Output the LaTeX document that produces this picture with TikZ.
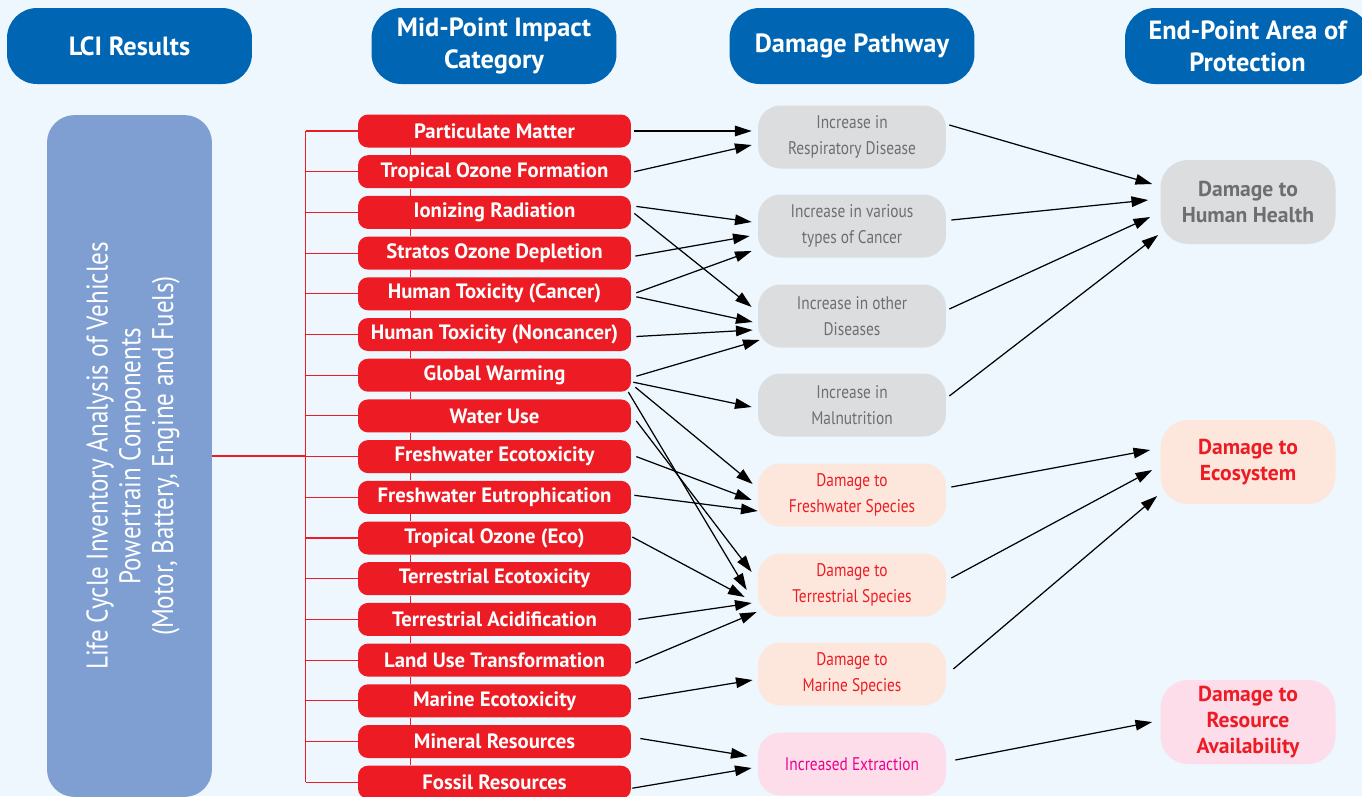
\documentclass[tikz,border=0pt]{standalone}
\usepackage{fontspec}
\setmainfont{PT Sans}
\newfontfamily\narrowfont[FakeStretch=0.84]{PT Sans}
\usetikzlibrary{arrows.meta}

\definecolor{bgblue}{HTML}{EDF7FD}
\definecolor{hdrblue}{HTML}{0066B3}
\definecolor{lciblue}{HTML}{7F9FD3}
\definecolor{midred}{HTML}{ED1C24}
\definecolor{palegray}{HTML}{DCDDDE}
\definecolor{darkgray}{HTML}{6D6E71}
\definecolor{peach}{HTML}{FDE7DD}
\definecolor{pinkbox}{HTML}{FCDDE9}
\definecolor{magenta}{HTML}{EC008C}

\begin{document}
\begin{tikzpicture}[x=0.02cm, y=-0.02cm,
  header/.style={fill=hdrblue, text=white, rounded corners=0.6cm, inner sep=0pt,
    minimum width=4.9cm, minimum height=1.52cm, align=center,
    font=\bfseries\fontsize{15}{18}\selectfont},
  midbox/.style={fill=midred, text=white, rounded corners=0.2cm, inner sep=0pt,
    minimum width=5.46cm, minimum height=0.66cm,
    font=\bfseries\fontsize{11.8}{13}\selectfont},
  pathbox/.style={rounded corners=0.45cm, inner sep=0pt, align=center,
    minimum width=3.76cm, minimum height=1.26cm,
    font=\narrowfont\fontsize{10.4}{14.7}\selectfont},
  endbox/.style={rounded corners=0.55cm, inner sep=0pt, align=center,
    minimum width=3.5cm, minimum height=1.68cm,
    font=\bfseries\fontsize{12.3}{14.7}\selectfont},
  redline/.style={midred, line width=0.6pt},
  arr/.style={-{Triangle[length=9.5pt,width=6pt]}, line width=0.7pt}]

\fill[bgblue] (0,0) rectangle (1362,796);
\useasboundingbox (0,0) rectangle (1362,796);
\clip (0,0) rectangle (1362,796);

% Column headers
\node[header] (h1) at (129.5,46) {LCI Results};
\node[header] (h2) at (494,46) {Mid-Point Impact\\Category};
\node[header] (h3) at (852,46) {Damage Pathway};
\node[header] (h4) at (1247.5,46) {End-Point Area of\\Protection};

% LCI block
\node[fill=lciblue, rounded corners=0.55cm, minimum width=3.3cm, minimum height=13.64cm] (lci) at (129.5,456) {};
\node[rotate=90, text=white, align=center, font=\narrowfont\fontsize{17}{18.7}\selectfont] (lcitxt) at ([xshift=2pt]lci.center)
  {Life Cycle Inventory Analysis of Vehicles\\Powertrain Components\\(Motor, Battery, Engine and Fuels)};

% Mid-point categories
\node[midbox] (m1) at (494.5,131) {Particulate Matter};
\node[midbox] (m2) at (494.5,171.7) {Tropical Ozone Formation};
\node[midbox] (m3) at (494.5,212.4) {Ionizing Radiation};
\node[midbox] (m4) at (494.5,253.1) {Stratos Ozone Depletion};
\node[midbox] (m5) at (494.5,293.8) {Human Toxicity (Cancer)};
\node[midbox] (m6) at (494.5,334.5) {Human Toxicity (Noncancer)};
\node[midbox] (m7) at (494.5,375.2) {Global Warming};
\node[midbox] (m8) at (494.5,415.9) {Water Use};
\node[midbox] (m9) at (494.5,456.6) {Freshwater Ecotoxicity};
\node[midbox] (m10) at (494.5,497.3) {Freshwater Eutrophication};
\node[midbox] (m11) at (494.5,538) {Tropical Ozone (Eco)};
\node[midbox] (m12) at (494.5,578.7) {Terrestrial Ecotoxicity};
\node[midbox] (m13) at (494.5,619.4) {Terrestrial Acidification};
\node[midbox] (m14) at (494.5,660.1) {Land Use Transformation};
\node[midbox] (m15) at (494.5,700.8) {Marine Ecotoxicity};
\node[midbox] (m16) at (494.5,741.5) {Mineral Resources};
\node[midbox] (m17) at (494.5,782.2) {Fossil Resources};

% Red tree from LCI block
\coordinate (bus) at ([shift={(-52,0)}]m1.west);
\draw[redline] (lci.east) -- (lci.east -| bus);
\draw[redline] (bus) -- ([shift={(-52,0)}]m17.west);
\foreach \i in {1,...,17}
  \draw[redline] (m\i.west) -- ++(-52,0);
\foreach \i [evaluate=\i as \j using int(\i+1)] in {1,...,16}
  \draw[redline] ([shift={(53,0)}]m\i.south west) -- ([shift={(53,0)}]m\j.north west);

% Damage pathways
\node[pathbox, fill=palegray, text=darkgray] (p1) at (852,137) {Increase in\\Respiratory Disease};
\node[pathbox, fill=palegray, text=darkgray] (p2) at (852,226) {Increase in various\\types of Cancer};
\node[pathbox, fill=palegray, text=darkgray] (p3) at (852,316) {Increase in other\\Diseases};
\node[pathbox, fill=palegray, text=darkgray] (p4) at (852,405) {Increase in\\Malnutrition};
\node[pathbox, fill=peach, text=midred] (p5) at (852,495) {Damage to\\Freshwater Species};
\node[pathbox, fill=peach, text=midred] (p6) at (852,585) {Damage to\\Terrestrial Species};
\node[pathbox, fill=peach, text=midred] (p7) at (852,674) {Damage to\\Marine Species};
\node[pathbox, fill=pinkbox, text=magenta] (p8) at (852,764) {Increased Extraction};

% End-point areas
\node[endbox, fill=palegray, text=darkgray] (e1) at (1248,202) {Damage to\\Human Health};
\node[endbox, fill=peach, text=midred] (e2) at (1248,462) {Damage to\\Ecosystem};
\node[endbox, fill=pinkbox, text=midred] (e3) at (1248,722) {Damage to\\Resource\\Availability};

% Arrows mid-point -> pathway
\draw[arr] ([shift={(3,0)}]m1.east) -- ([shift={(-6,-6)}]p1.west);
\draw[arr] ([shift={(3,0)}]m2.east) -- ([shift={(-6,8)}]p1.west);
\draw[arr] ([shift={(5,-6)}]m3.east) -- ([shift={(-6,-4)}]p2.west);
\draw[arr] ([shift={(3,1)}]m3.east) -- ([shift={(-6,-9)}]p3.west);
\draw[arr] ([shift={(4,3)}]m4.east) -- ([shift={(-8,10)}]p2.west);
\draw[arr] ([shift={(5,-1)}]m5.east) -- ([shift={(-6,25)}]p2.west);
\draw[arr] ([shift={(5,3)}]m5.east) -- ([shift={(-5,6)}]p3.west);
\draw[arr] ([shift={(5,2)}]m6.east) -- ([shift={(-5,14)}]p3.west);
\draw[arr] ([shift={(5,1)}]m7.east) -- ([shift={(2,24)}]p3.west);
\draw[arr] ([shift={(2,7)}]m7.east) -- ([shift={(-6,2)}]p4.west);
\draw[arr] ([shift={(4,12)}]m7.east) -- ([shift={(-5,-11)}]p5.west);
\draw[arr] ([shift={(-3,0)}]m7.south east) -- ([shift={(-11,5)}]p6.west);
\draw[arr] ([shift={(5,5)}]m8.east) -- ([shift={(-6,-13)}]p6.west);
\draw[arr] ([shift={(5,0)}]m9.east) -- ([shift={(-6,5)}]p5.west);
\draw[arr] ([shift={(3,-2)}]m10.east) -- ([shift={(0,16)}]p5.west);
\draw[arr] ([shift={(1,-1)}]m11.east) -- ([shift={(-13,12)}]p6.west);
\draw[arr] ([shift={(7,0)}]m13.east) -- ([shift={(-6,18)}]p6.west);
\draw[arr] ([shift={(4,3)}]m14.east) -- ([shift={(-1,27)}]p6.west);
\draw[arr] ([shift={(7,-2)}]m15.east) -- ([shift={(-5,6)}]p7.west);
\draw[arr] ([shift={(9,-3)}]m16.east) -- ([shift={(-10,-8)}]p8.west);
\draw[arr] ([shift={(1,6)}]m17.east) -- ([shift={(-6,4)}]p8.west);

% Arrows pathway -> end-point
\draw[arr] ([shift={(3,-12)}]p1.east) -- ([shift={(-8,-18)}]e1.west);
\draw[arr] ([shift={(5,-6)}]p2.east) -- ([shift={(-12,-2)}]e1.west);
\draw[arr] ([shift={(3,-7)}]p3.east) -- ([shift={(-10,15)}]e1.west);
\draw[arr] ([shift={(3,-9)}]p4.east) -- ([shift={(-2,33)}]e1.west);
\draw[arr] ([shift={(5,-8)}]p5.east) -- ([shift={(-10,-12)}]e2.west);
\draw[arr] ([shift={(5,-7)}]p6.east) -- ([shift={(-8,8)}]e2.west);
\draw[arr] ([shift={(7,-5)}]p7.east) -- ([shift={(-3,34)}]e2.west);
\draw[arr] ([shift={(9,-4)}]p8.east) -- ([shift={(-8,0)}]e3.west);

\end{tikzpicture}
\end{document}
